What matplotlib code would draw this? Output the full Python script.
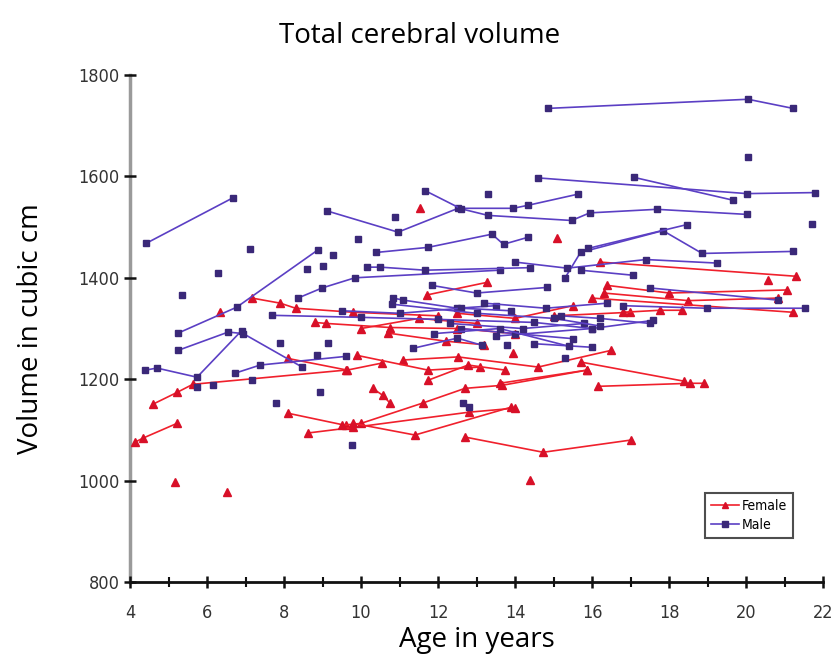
import matplotlib
matplotlib.use("Agg")
import matplotlib.pyplot as plt
from matplotlib.ticker import MultipleLocator

# Longitudinal total cerebral volume per subject (age in years, volume in cc)
male_ages = [
    [4.42, 6.68],
    [14.85, 20.05, 21.22],
    [14.59, 20.02, 21.79],
    [17.09, 19.66],
    [9.11, 10.96, 12.52, 13.95, 14.34, 15.64],
    [11.66, 12.6, 13.3, 15.47, 15.94, 17.68, 20.02],
    [10.4, 11.74, 13.4, 13.7, 14.34],
    [15.3, 15.7, 17.84, 18.86, 21.22],
    [15.9, 18.47],
    [14.0, 15.35, 17.4, 19.25],
    [5.25, 6.77, 8.88],
    [5.25, 6.55, 6.94, 8.47],
    [4.4, 4.7, 5.74, 6.9],
    [7.7, 10.0, 12.0, 14.5, 16.0],
    [8.36, 8.99, 9.84, 13.6],
    [10.15, 10.5, 11.66, 14.4],
    [11.84, 13.0, 14.83],
    [10.83, 11.1, 12.5, 13.5],
    [11.35, 12.5, 13.14],
    [13.5, 16.0, 17.58],
    [14.5, 16.0],
    [16.8, 18.98, 21.53],
    [17.5, 20.83],
    [15.7, 17.07],
    [6.73, 7.38, 9.6],
    [12.6, 14.0, 15.5],
    [9.5, 11.0, 12.6, 13.9],
    [12.3, 14.2, 15.8],
    [10.8, 13.0, 15.0, 16.2],
    [13.2, 14.8, 16.4],
    [11.9, 13.6, 15.4],
    [15.2, 16.2, 17.5],
]
male_vols = [
    [1468, 1558],
    [1734, 1752, 1734],
    [1597, 1566, 1568],
    [1598, 1553],
    [1532, 1490, 1537, 1537, 1543, 1565],
    [1572, 1536, 1523, 1513, 1528, 1535, 1525],
    [1450, 1460, 1486, 1466, 1480],
    [1400, 1450, 1493, 1448, 1452],
    [1458, 1505],
    [1431, 1419, 1436, 1429],
    [1291, 1342, 1455],
    [1257, 1293, 1290, 1224],
    [1218, 1222, 1204, 1296],
    [1326, 1322, 1318, 1312, 1300],
    [1360, 1380, 1400, 1415],
    [1421, 1421, 1415, 1420],
    [1385, 1370, 1381],
    [1360, 1356, 1340, 1345],
    [1261, 1281, 1267],
    [1285, 1300, 1316],
    [1270, 1263],
    [1345, 1340, 1340],
    [1380, 1356],
    [1415, 1405],
    [1212, 1228, 1245],
    [1300, 1290, 1280],
    [1335, 1330, 1340, 1335],
    [1310, 1300, 1310],
    [1348, 1330, 1320, 1305],
    [1350, 1340, 1350],
    [1290, 1300, 1265],
    [1325, 1320, 1310],
]
male_single_ages = [5.35, 6.29, 7.12, 7.9, 7.8, 8.94, 9.14, 8.86, 9.77, 9.92,
                    10.88, 13.3, 9.27, 9.0, 8.6, 20.05, 21.7, 15.3, 12.65,
                    12.8, 13.8, 6.15, 7.16, 5.73]
male_single_vols = [1366, 1409, 1457, 1271, 1153, 1174, 1271, 1247, 1070, 1476,
                    1520, 1566, 1444, 1423, 1417, 1639, 1507, 1241, 1153,
                    1145, 1267, 1188, 1198, 1184]

female_ages = [
    [16.2, 21.3],
    [4.6, 5.22, 5.63, 9.6],
    [4.13, 4.34, 5.22],
    [8.1, 9.6],
    [8.62, 9.8, 12.8, 14.0],
    [9.5, 10.0, 11.6, 12.7, 13.66, 15.87],
    [9.8, 11.4, 13.9],
    [12.7, 14.73, 17.0],
    [16.16, 18.55, 18.9],
    [15.7, 18.4],
    [7.17, 7.9, 8.3, 9.8, 12.0],
    [8.1, 9.64, 10.55],
    [8.8, 9.1, 10.75, 12.5, 14.0],
    [10.7, 12.2, 13.2],
    [11.7, 13.27],
    [11.1, 12.52, 14.6, 16.5],
    [9.9, 11.74, 13.1],
    [16.4, 18.0, 21.06],
    [16.3, 18.5, 20.83],
    [16.0, 21.22],
    [15.0, 16.99],
    [16.8, 17.77, 18.34],
    [10.3, 10.57, 10.75],
    [11.74, 12.78, 13.74],
    [13.6, 15.87],
    [10.0, 11.5, 13.0],
    [12.5, 14.0, 15.5],
]
female_vols = [
    [1431, 1403],
    [1151, 1174, 1190, 1218],
    [1076, 1084, 1113],
    [1133, 1109],
    [1094, 1105, 1135, 1143],
    [1109, 1113, 1153, 1182, 1188, 1218],
    [1113, 1090, 1145],
    [1086, 1056, 1080],
    [1186, 1192, 1192],
    [1234, 1196],
    [1360, 1350, 1340, 1332, 1325],
    [1241, 1218, 1232],
    [1312, 1310, 1302, 1300, 1290],
    [1291, 1275, 1268],
    [1366, 1391],
    [1238, 1244, 1224, 1257],
    [1247, 1218, 1224],
    [1385, 1370, 1376],
    [1370, 1355, 1360],
    [1360, 1332],
    [1325, 1332],
    [1332, 1336, 1336],
    [1182, 1168, 1153],
    [1198, 1228, 1218],
    [1192, 1218],
    [1300, 1320, 1310],
    [1330, 1320, 1345],
]
female_single_ages = [11.53, 15.1, 5.17, 6.52, 14.39, 20.57, 6.34, 13.95]
female_single_vols = [1537, 1478, 997, 977, 1001, 1395, 1332, 1251]

x_ticks = [4, 6, 8, 10, 12, 14, 16, 18, 20, 22]
y_ticks = [800, 1000, 1200, 1400, 1600, 1800]

male_line = "#5b3fc4"
male_mark = "#3a2878"
female_line = "#f0202c"
female_mark = "#d81028"

label_font = ["Open Sans", "DejaVu Sans"]

fig = plt.figure(figsize=(8.39, 6.63), dpi=100)
ax = fig.add_axes([0.155, 0.122, 0.826, 0.765])

for a, v in zip(female_ages, female_vols):
    ax.plot(a, v, color=female_line, lw=1.2, marker="^", ms=5.5,
            mfc=female_mark, mec=female_mark, zorder=2)
ax.plot(female_single_ages, female_single_vols, ls="none", marker="^", ms=5.5,
        mfc=female_mark, mec=female_mark, zorder=2)

for a, v in zip(male_ages, male_vols):
    ax.plot(a, v, color=male_line, lw=1.2, marker="s", ms=5,
            mfc=male_mark, mec=male_mark, zorder=3)
ax.plot(male_single_ages, male_single_vols, ls="none", marker="s", ms=5,
        mfc=male_mark, mec=male_mark, zorder=3)

ax.set_xlim(4, 22)
ax.set_ylim(800, 1800)
ax.set_xticks(x_ticks)
ax.set_yticks(y_ticks)
ax.xaxis.set_minor_locator(MultipleLocator(1))

for s in ("top", "right"):
    ax.spines[s].set_visible(False)
ax.spines["left"].set_color("#9a9a9a")
ax.spines["left"].set_linewidth(2.5)
ax.spines["bottom"].set_color("#111111")
ax.spines["bottom"].set_linewidth(2.0)
ax.spines["left"].set_zorder(1)

ax.tick_params(axis="both", which="major", direction="inout", length=9,
               width=1.8, color="#111111", labelsize=13)
ax.tick_params(axis="x", which="minor", direction="inout", length=7,
               width=1.5, color="#111111")
ax.tick_params(axis="x", which="major", pad=11)
ax.tick_params(axis="y", which="major", pad=3)
for lab in ax.get_xticklabels() + ax.get_yticklabels():
    lab.set_family("DejaVu Sans")
    lab.set_stretch("condensed")
    lab.set_color("#333333")

ax.set_xlabel("Age in years", fontsize=20, family=label_font, labelpad=3)
ax.set_ylabel("Volume in cubic cm", fontsize=20, family=label_font, labelpad=24)
fig.text(0.5, 0.945, "Total cerebral volume", ha="center", va="center",
         fontsize=20, family=label_font)

h_f, = ax.plot([], [], color=female_line, lw=1.2, marker="^", ms=4.5,
               mfc=female_mark, mec=female_mark)
h_m, = ax.plot([], [], color=male_line, lw=1.2, marker="s", ms=4,
               mfc=male_mark, mec=male_mark)
leg = ax.legend([h_f, h_m], ["Female", "Male"], loc="lower right",
                bbox_to_anchor=(0.967, 0.073), frameon=True, fancybox=False,
                edgecolor="#222222", handlelength=2.0, handletextpad=0.2,
                borderpad=0.45, labelspacing=0.35,
                prop={"family": "DejaVu Sans", "stretch": "condensed", "size": 10})
leg.get_frame().set_linewidth(1.5)

fig.savefig("out.png", dpi=100)
